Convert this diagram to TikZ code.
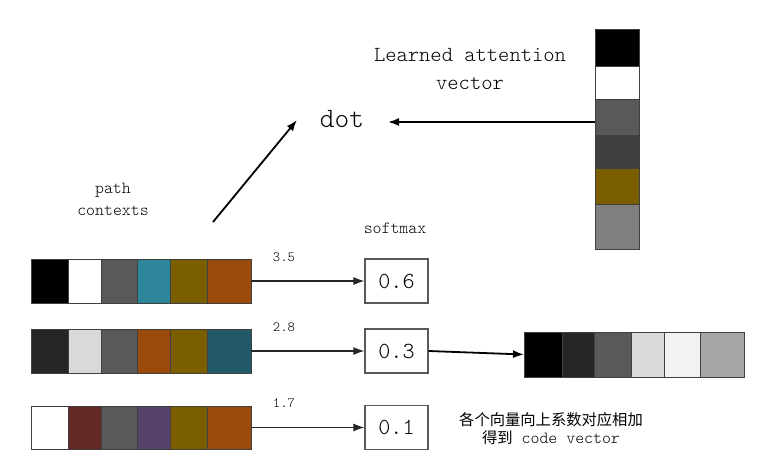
\documentclass[tikz,border=0pt]{standalone}
\usepackage{fontspec}
\newfontfamily\cjk{Noto Sans CJK SC}
\newfontfamily\lmlight{Latin Modern Mono Light}
\usetikzlibrary{arrows.meta}
\definecolor{gA}{HTML}{595959}
\definecolor{gB}{HTML}{262626}
\definecolor{gC}{HTML}{D9D9D9}
\definecolor{gD}{HTML}{404040}
\definecolor{gE}{HTML}{808080}
\definecolor{gF}{HTML}{F2F2F2}
\definecolor{gG}{HTML}{A6A6A6}
\definecolor{teal1}{HTML}{2E869A}
\definecolor{teal2}{HTML}{215968}
\definecolor{olive}{HTML}{7B5E00}
\definecolor{rust}{HTML}{9A4A0A}
\definecolor{maroon}{HTML}{632A24}
\definecolor{purp}{HTML}{574369}
\tikzset{
  cell/.style={draw=gD, line width=1pt},
  vecnode/.style={inner sep=0pt, outer sep=0pt},
  numbox/.style={draw=gA, line width=1.3pt, fill=white, minimum width=63pt, minimum height=44pt, inner sep=0pt, font=\lmlight\fontsize{23}{24}\selectfont},
  conn/.style={line width=1.2pt, draw=black!85, -{Latex[length=11pt,width=8pt]}},
  lbl/.style={font=\lmlight\fontsize{14}{16}\selectfont, inner sep=0pt},
  txt/.style={font=\lmlight\fontsize{17}{22}\selectfont, align=center, inner sep=0pt}
}
\begin{document}
\begin{tikzpicture}[x=1pt,y=-1pt]
\useasboundingbox[fill=white] (0,0) rectangle (780,472);
% path context vectors
\foreach \a/\b/\c in {31/68/black,68/101/white,101/137/gA,137/170/teal1,170/207/olive,207/251/rust}
  \filldraw[cell, fill=\c] (\a,259) rectangle (\b,303);
\foreach \a/\b/\c in {31/68/gB,68/101/gC,101/137/gA,137/170/rust,170/207/olive,207/251/teal2}
  \filldraw[cell, fill=\c] (\a,329) rectangle (\b,373);
\foreach \a/\b/\c in {31/68/white,68/101/maroon,101/137/gA,137/170/purp,170/207/olive,207/251/rust}
  \filldraw[cell, fill=\c] (\a,406) rectangle (\b,449);
\node[vecnode, minimum width=220pt, minimum height=44pt] (v1) at (141,281) {};
\node[vecnode, minimum width=220pt, minimum height=44pt] (v2) at (141,351) {};
\node[vecnode, minimum width=220pt, minimum height=43pt] (v3) at (141,427.5) {};
% attention vector
\foreach \a/\b/\c in {29/66/black,66/99/white,99/135/gA,135/168/gD,168/204/olive,204/249/gE}
  \filldraw[cell, fill=\c] (595,\a) rectangle (639,\b);
\node[vecnode, minimum width=44pt, minimum height=220pt] (att) at (617,139) {};
% code vector
\foreach \a/\b/\c in {524/562/black,562/594/gB,594/631/gA,631/664/gC,664/700/gF,700/744/gG}
  \filldraw[cell, fill=\c] (\a,332) rectangle (\b,377);
\node[vecnode, minimum width=220pt, minimum height=45pt] (code) at (634,354.5) {};
% softmax boxes
\node[numbox] (b1) at (396.5,281) {0.6};
\node[numbox] (b2) at (396.5,351) {0.3};
\node[numbox] (b3) at (396.5,427.5) {0.1};
% texts
\node[txt] (pc) at (113,199) {path\\contexts};
\node[txt] (sm) at (395,228) {softmax};
\node[font=\lmlight\fontsize{21.5}{28}\selectfont, align=center, inner sep=0pt] (lav) at (470,69) {Learned attention\\vector};
\node[font=\lmlight\fontsize{28}{30}\selectfont, inner sep=2pt] (dot) at (342,119) {dot};
\node[lbl] (s1) at (284,257) {3.5};
\node[lbl] (s2) at (284,327) {2.8};
\node[lbl] (s3) at (284,403) {1.7};
\node[align=center, inner sep=0pt] (note) at (551,429) {{\cjk\fontsize{15.3}{18}\selectfont 各个向量向上系数对应相加}\\[3pt]{\cjk\fontsize{15.3}{18}\selectfont 得到}\hspace{9pt}{\lmlight\fontsize{17}{18}\selectfont code vector}};
% connectors
\draw[conn] (v1.east) -- (b1.west);
\draw[conn] (v2.east) -- (b2.west);
\draw[conn] (v3.east) -- (b3.west);
\draw[conn, line width=1.8pt, draw=black] (b2.east) -- (code.west);
\draw[conn, line width=1.8pt, draw=black] (att.west |- 0,122) -- (388,122);
\coordinate (ctxtop) at (213,222);
\draw[conn, line width=1.8pt, draw=black] (ctxtop) -- (297,120);
\end{tikzpicture}
\end{document}
